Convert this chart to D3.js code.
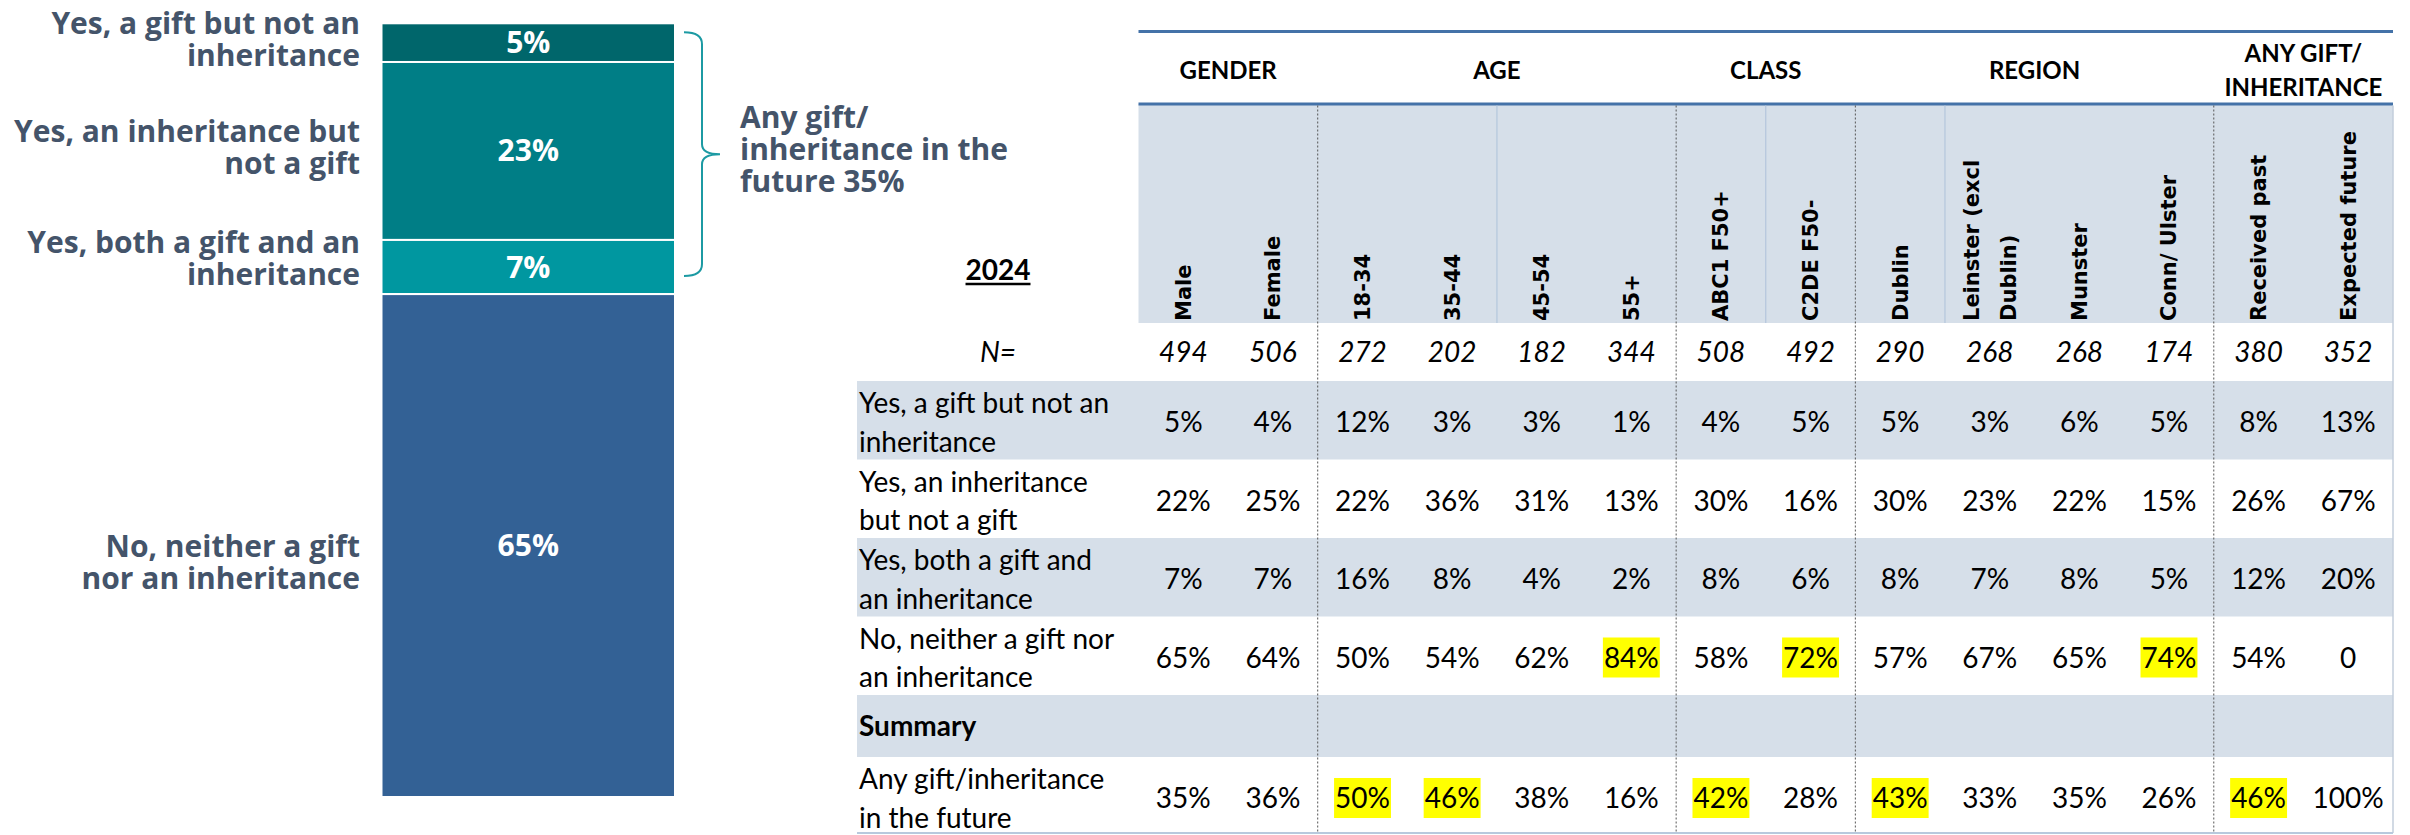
<!DOCTYPE html>
<html>
<head>
<meta charset="utf-8">
<script src="https://cdn.jsdelivr.net/npm/d3@7"></script>
<style>
  body { margin: 0; background: #fff; }
</style>
</head>
<body>
<div id="chart"></div>
<script>
// ---- left stacked bar ----
const barCategories = ["Yes, a gift but not an inheritance", "Yes, an inheritance but not a gift",
  "Yes, both a gift and an inheritance", "No, neither a gift nor an inheritance"];
const barLabelLines = [["Yes, a gift but not an", "inheritance"], ["Yes, an inheritance but", "not a gift"],
  ["Yes, both a gift and an", "inheritance"], ["No, neither a gift", "nor an inheritance"]];
const barValues = [5, 23, 7, 65];
const bracketLines = ["Any gift/", "inheritance in the", "future 35%"];
const bracketTotal = 35;

// ---- table ----
const groupNames = [["GENDER"], ["AGE"], ["CLASS"], ["REGION"], ["ANY GIFT/", "INHERITANCE"]];
const groupSizes = [2, 4, 2, 4, 2];
const columns = ["Male", "Female", "18-34", "35-44", "45-54", "55+", "ABC1 F50+", "C2DE F50-",
  "Dublin", "Leinster (excl Dublin)", "Munster", "Conn/ Ulster", "Received past", "Expected future"];
const columnLines = [["Male"], ["Female"], ["18-34"], ["35-44"], ["45-54"], ["55+"], ["ABC1 F50+"], ["C2DE F50-"],
  ["Dublin"], ["Leinster (excl", "Dublin)"], ["Munster"], ["Conn/ Ulster"], ["Received past"], ["Expected future"]];
const baseN = [494, 506, 272, 202, 182, 344, 508, 492, 290, 268, 268, 174, 380, 352];

const rowLabels = [["Yes, a gift but not an", "inheritance"], ["Yes, an inheritance", "but not a gift"],
  ["Yes, both a gift and", "an inheritance"], ["No, neither a gift nor", "an inheritance"],
  ["Summary"], ["Any gift/inheritance", "in the future"]];
const giftOnly    = [5, 4, 12, 3, 3, 1, 4, 5, 5, 3, 6, 5, 8, 13];
const inheritOnly = [22, 25, 22, 36, 31, 13, 30, 16, 30, 23, 22, 15, 26, 67];
const bothGift    = [7, 7, 16, 8, 4, 2, 8, 6, 8, 7, 8, 5, 12, 20];
const neither     = [65, 64, 50, 54, 62, 84, 58, 72, 57, 67, 65, 74, 54, 0];
const anyFuture   = [35, 36, 50, 46, 38, 16, 42, 28, 43, 33, 35, 26, 46, 100];
const neitherHighlight = ["55+", "C2DE F50-", "Conn/ Ulster"];
const anyHighlight = ["18-34", "35-44", "ABC1 F50+", "Dublin", "Received past"];

const rows = [
  { values: giftOnly, highlight: [] },
  { values: inheritOnly, highlight: [] },
  { values: bothGift, highlight: [] },
  { values: neither, highlight: neitherHighlight },
  { values: null, highlight: [], bold: true },
  { values: anyFuture, highlight: anyHighlight }
];

const width = 2410, height = 835;
const slate = "#44546a";
const barColors = ["#00666b", "#007e86", "#0097a0", "#336195"];
const bandFill = "#d6dfe9";
// small vertical nudges so the category labels sit where the slide put them
const labelNudge = [2, 2, -3, 22];

const svg = d3.select("#chart").append("svg")
  .attr("width", width)
  .attr("height", height);

// ===== left bar =====
const barX = d3.scaleBand().domain(["2024"]).range([381.5, 675]).padding(0);
const barY = d3.scaleLinear().domain([0, 100]).range([23.3, 797]);

const stacked = barValues.map((v, i) => {
  const start = d3.sum(barValues.slice(0, i));
  return { value: v, start: start, end: start + v, lines: barLabelLines[i], color: barColors[i], name: barCategories[i], nudge: labelNudge[i] };
});

const left = svg.append("g").attr("font-family", "'Open Sans', sans-serif").attr("font-weight", 700);

left.selectAll("rect.seg")
  .data(stacked)
  .join("rect")
  .attr("class", "seg")
  .attr("x", barX("2024"))
  .attr("width", barX.bandwidth())
  .attr("y", d => barY(d.start))
  .attr("height", d => barY(d.end) - barY(d.start))
  .attr("fill", d => d.color)
  .attr("stroke", "#fff")
  .attr("stroke-width", 2);

left.selectAll("text.val")
  .data(stacked)
  .join("text")
  .attr("class", "val")
  .attr("x", barX("2024") + barX.bandwidth() / 2)
  .attr("y", d => (barY(d.start) + barY(d.end)) / 2 + 10.5)
  .attr("text-anchor", "middle")
  .attr("font-size", 30)
  .attr("fill", "#fff")
  .text(d => d.value + "%");

const catLabel = left.selectAll("text.cat")
  .data(stacked)
  .join("text")
  .attr("class", "cat")
  .attr("text-anchor", "end")
  .attr("font-size", 30)
  .attr("fill", slate)
  .attr("y", d => {
    const mid = (barY(d.start) + barY(d.end)) / 2;
    return mid + 5 - (d.lines.length - 1) * 32 / 2 + d.nudge;
  });
catLabel.selectAll("tspan")
  .data(d => d.lines)
  .join("tspan")
  .attr("x", 360)
  .attr("dy", (d, i) => i === 0 ? 0 : 32)
  .text(d => d);

// bracket round the "any gift" segments
const bTop = barY(0) + 9, bBot = barY(bracketTotal) - 18, bMid = (bTop + bBot) / 2;
const bx0 = 684, bx1 = 702, bx2 = 720;
svg.append("path")
  .attr("d", `M${bx0},${bTop} Q${bx1},${bTop} ${bx1},${bTop + 12} L${bx1},${bMid - 10} Q${bx1},${bMid} ${bx2},${bMid}
    Q${bx1},${bMid} ${bx1},${bMid + 10} L${bx1},${bBot - 12} Q${bx1},${bBot} ${bx0},${bBot}`)
  .attr("fill", "none")
  .attr("stroke", "#1c9aa3")
  .attr("stroke-width", 2);

left.append("text")
  .attr("font-size", 30)
  .attr("fill", slate)
  .attr("y", bMid - 26)
  .selectAll("tspan")
  .data(bracketLines)
  .join("tspan")
  .attr("x", 740)
  .attr("dy", (d, i) => i === 0 ? 0 : 32)
  .text(d => d);

// ===== table =====
const tx = d3.scaleBand().domain(columns).range([1138.5, 2393]);
const tableLeft = 857, tableRight = 2393;
const headTop = 104, headBottom = 323, nBottom = 381;
const rowHeights = [78.5, 78.5, 78.5, 78.5, 62, 76];
const rowTops = rowHeights.map((h, i) => nBottom + d3.sum(rowHeights.slice(0, i)));
const tableBottom = nBottom + d3.sum(rowHeights);

const table = svg.append("g").attr("font-family", "Lato, sans-serif");

// header fill
table.append("rect")
  .attr("x", tx.range()[0]).attr("y", headTop)
  .attr("width", tx.range()[1] - tx.range()[0]).attr("height", headBottom - headTop)
  .attr("fill", bandFill);

// row bands
table.selectAll("rect.band")
  .data(rows.map((r, i) => i).filter(i => i % 2 === 0))
  .join("rect")
  .attr("class", "band")
  .attr("x", tableLeft).attr("width", tableRight - tableLeft)
  .attr("y", i => rowTops[i]).attr("height", i => rowHeights[i])
  .attr("fill", bandFill);

// blue rules
table.selectAll("line.rule")
  .data([31.5, headTop])
  .join("line")
  .attr("class", "rule")
  .attr("x1", tx.range()[0]).attr("x2", tx.range()[1])
  .attr("y1", d => d).attr("y2", d => d)
  .attr("stroke", "#4472a8").attr("stroke-width", 3);

// group boundaries
const groupStarts = groupSizes.map((s, i) => d3.sum(groupSizes.slice(0, i)));
const dashedCols = groupStarts.slice(1).map(k => columns[k]);
table.selectAll("line.dash")
  .data(dashedCols)
  .join("line")
  .attr("class", "dash")
  .attr("x1", d => tx(d)).attr("x2", d => tx(d))
  .attr("y1", headTop + 1.5).attr("y2", tableBottom)
  .attr("stroke", "#555").attr("stroke-width", 1).attr("stroke-dasharray", "2,2");

table.selectAll("line.thin")
  .data(["45-54", "C2DE F50-", "Leinster (excl Dublin)"])
  .join("line")
  .attr("class", "thin")
  .attr("x1", d => tx(d)).attr("x2", d => tx(d))
  .attr("y1", headTop + 1.5).attr("y2", headBottom)
  .attr("stroke", "#b4c6dc").attr("stroke-width", 1.2);

table.append("line")
  .attr("x1", tableRight).attr("x2", tableRight)
  .attr("y1", headTop + 1.5).attr("y2", tableBottom)
  .attr("stroke", "#c3cedb").attr("stroke-width", 1.5);

table.append("line")
  .attr("x1", tableLeft).attr("x2", tableRight)
  .attr("y1", tableBottom).attr("y2", tableBottom)
  .attr("stroke", "#b8c9dd").attr("stroke-width", 2);

// group titles
const groupText = table.selectAll("text.group")
  .data(groupNames.map((n, i) => ({ lines: n, first: columns[groupStarts[i]], last: columns[groupStarts[i] + groupSizes[i] - 1] })))
  .join("text")
  .attr("class", "group")
  .attr("text-anchor", "middle")
  .attr("font-weight", 700)
  .attr("font-size", 24)
  .attr("fill", "#000")
  .attr("y", d => 79 - (d.lines.length - 1) * 34 / 2);
groupText.selectAll("tspan")
  .data(d => d.lines.map(l => ({ l, cx: (tx(d.first) + tx(d.last) + tx.bandwidth()) / 2 })))
  .join("tspan")
  .attr("x", d => d.cx)
  .attr("dy", (d, i) => i === 0 ? 0 : 34)
  .text(d => d.l);

// rotated column titles
const colText = table.selectAll("text.col")
  .data(columns.map((c, i) => ({ c, lines: columnLines[i] })))
  .join("text")
  .attr("class", "col")
  .attr("transform", d => `translate(${tx(d.c) + tx.bandwidth() / 2},${headBottom - 2}) rotate(-90)`)
  .style("font-family", "'DejaVu Sans', Verdana, sans-serif")
  .style("font-weight", 700)
  .style("font-size", "21px")
  .attr("fill", "#000");
colText.selectAll("tspan")
  .data(d => d.lines.map((l, i) => ({ l, off: (i - (d.lines.length - 1) / 2) * 37 + 7.5 })))
  .join("tspan")
  .attr("x", 0)
  .attr("y", d => d.off)
  .text(d => d.l);

// 2024 and N=
const yearText = table.append("text")
  .attr("x", 998).attr("y", 280)
  .attr("text-anchor", "middle")
  .attr("font-weight", 700).attr("font-size", 28)
  .attr("fill", "#000")
  .text("2024");
const yw = yearText.node().getComputedTextLength();
table.append("line")
  .attr("x1", 998 - yw / 2).attr("x2", 998 + yw / 2)
  .attr("y1", 284).attr("y2", 284)
  .attr("stroke", "#000").attr("stroke-width", 2.5);

table.append("text")
  .attr("x", 998).attr("y", 362)
  .attr("text-anchor", "middle")
  .attr("font-style", "italic").attr("font-size", 28)
  .attr("fill", "#000")
  .text("N=");

table.selectAll("text.n")
  .data(columns.map((c, i) => ({ c, v: baseN[i] })))
  .join("text")
  .attr("class", "n")
  .attr("x", d => tx(d.c) + tx.bandwidth() / 2)
  .attr("y", 362)
  .attr("text-anchor", "middle")
  .attr("font-style", "italic").attr("font-size", 28)
  .attr("fill", "#000")
  .text(d => d.v);

// row labels
const rowText = table.selectAll("text.rowlab")
  .data(rows.map((r, i) => ({ lines: rowLabels[i], top: rowTops[i], h: rowHeights[i], bold: r.bold })))
  .join("text")
  .attr("class", "rowlab")
  .attr("font-size", 28)
  .attr("font-weight", d => d.bold ? 700 : 400)
  .attr("fill", "#000")
  .attr("y", d => d.lines.length === 1 ? d.top + d.h / 2 + 10 : d.top + 32);
rowText.selectAll("tspan")
  .data(d => d.lines)
  .join("tspan")
  .attr("x", 859)
  .attr("dy", (d, i) => i === 0 ? 0 : 38.5)
  .text(d => d);

// cell values with yellow highlights
const cells = [];
rows.forEach((r, ri) => {
  if (!r.values) return;
  r.values.forEach((v, ci) => {
    cells.push({
      col: columns[ci],
      text: v === 0 ? "0" : v + "%",
      y: rowTops[ri] + 51,
      hl: r.highlight.includes(columns[ci])
    });
  });
});

const cellG = table.selectAll("g.cell")
  .data(cells)
  .join("g")
  .attr("class", "cell");

cellG.append("rect");
cellG.append("text")
  .attr("x", d => tx(d.col) + tx.bandwidth() / 2)
  .attr("y", d => d.y)
  .attr("text-anchor", "middle")
  .attr("font-size", 28)
  .attr("fill", "#000")
  .text(d => d.text);

cellG.each(function(d) {
  const g = d3.select(this);
  if (!d.hl) { g.select("rect").remove(); return; }
  const w = g.select("text").node().getComputedTextLength() + 2;
  g.select("rect")
    .attr("x", tx(d.col) + tx.bandwidth() / 2 - w / 2)
    .attr("y", d.y - 30)
    .attr("width", w)
    .attr("height", 40)
    .attr("fill", "#ffff00");
});
</script>
</body>
</html>
